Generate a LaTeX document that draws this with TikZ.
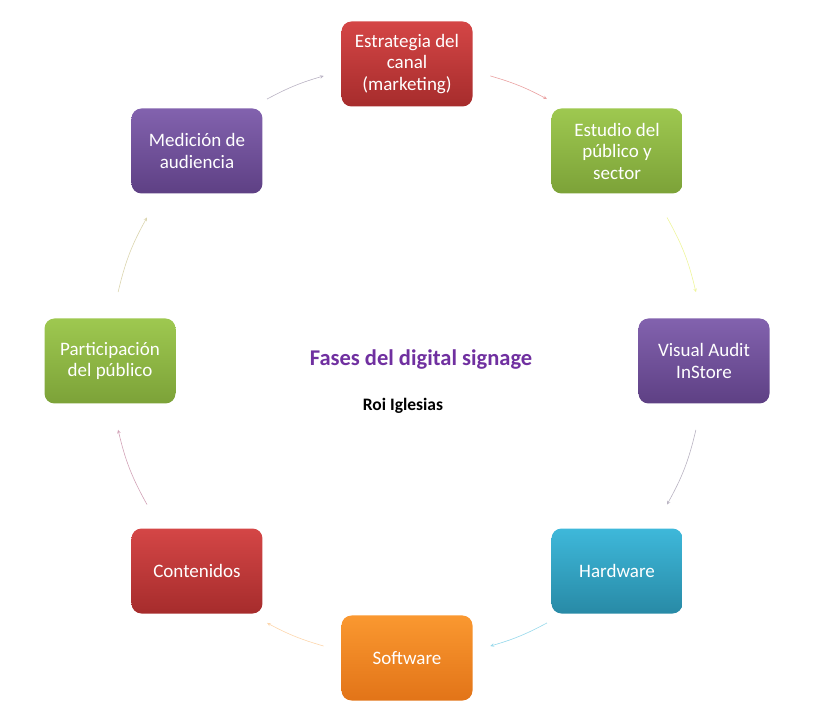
\documentclass[tikz,border=0pt]{standalone}
\usepackage{fontspec}
\setmainfont{Carlito}
\usepackage{tikz}
\usetikzlibrary{arrows,calc}
\definecolor{rojo1} {RGB} {212, 70, 70}
\definecolor{rojo2} {RGB} {166, 44, 44}
\definecolor{verde1} {RGB} {158, 200, 80}
\definecolor{verde2} {RGB} {124, 162, 56}
\definecolor{lila1} {RGB} {130, 98, 174}
\definecolor{lila2} {RGB} {94, 64, 132}
\definecolor{azul1} {RGB} {62, 184, 218}
\definecolor{azul2} {RGB} {40, 138, 166}
\definecolor{naranja1} {RGB} {250, 152, 48}
\definecolor{naranja2} {RGB} {226, 116, 24}
\definecolor{titulo} {RGB} {112, 48, 160}
\tikzstyle{fase}=[
  rounded corners=10pt, minimum width=131pt, minimum height=85pt, inner sep=2pt,
  text=white, align=center, font=\fontsize{19}{21.5}\selectfont
]
\tikzstyle{flecha}=[
  ->, >=stealth, line width=0.6pt
]

\begin{document}
\begin{tikzpicture}[x=1pt,y=1pt]
  \useasboundingbox (0,0) rectangle (837,717);
  \coordinate (c) at (407,356);
  % fases
  \node[fase, top color=rojo1, bottom color=rojo2] (estrategia) at ($(c)+(90:297)$) {Estrategia del\\canal\\(marketing)};
  \node[fase, top color=verde1, bottom color=verde2] (estudio) at ($(c)+(45:297)$) {Estudio del\\público y\\sector};
  \node[fase, top color=lila1, bottom color=lila2] (visual) at ($(c)+(0:297)$) {Visual Audit\\InStore};
  \node[fase, top color=azul1, bottom color=azul2] (hardware) at ($(c)+(-45:297)$) {Hardware};
  \node[fase, top color=naranja1, bottom color=naranja2] (software) at ($(c)+(-90:297)$) {Software};
  \node[fase, top color=rojo1, bottom color=rojo2] (contenidos) at ($(c)+(-135:297)$) {Contenidos};
  \node[fase, top color=verde1, bottom color=verde2] (participacion) at ($(c)+(180:297)$) {Participación\\del público};
  \node[fase, top color=lila1, bottom color=lila2] (medicion) at ($(c)+(135:297)$) {Medición de\\audiencia};
  % titulo
  \node[text=titulo, font=\fontsize{22.5}{27}\selectfont\bfseries] (tit) at (421,357) {Fases del digital signage};
  \node[font=\fontsize{17.5}{21}\selectfont\bfseries] (autor) at (403,311) {Roi Iglesias};
  % flechas
  \coordinate (a1) at ($(c)+(73.7:297)$);  \coordinate (b1) at ($(c)+(61.9:297)$);
  \coordinate (a2) at ($(c)+(28.9:297)$);  \coordinate (b2) at ($(c)+(13.4:297)$);
  \coordinate (a3) at ($(c)+(-13.4:297)$); \coordinate (b3) at ($(c)+(-28.9:297)$);
  \coordinate (a4) at ($(c)+(-61.9:297)$); \coordinate (b4) at ($(c)+(-73.7:297)$);
  \coordinate (a5) at ($(c)+(-106.3:297)$); \coordinate (b5) at ($(c)+(-118.1:297)$);
  \coordinate (a6) at ($(c)+(-151.1:297)$); \coordinate (b6) at ($(c)+(-166.6:297)$);
  \coordinate (a7) at ($(c)+(166.6:297)$); \coordinate (b7) at ($(c)+(151.1:297)$);
  \coordinate (a8) at ($(c)+(118.1:297)$); \coordinate (b8) at ($(c)+(106.3:297)$);
  \draw[flecha, rojo1!50!white] (a1) to[bend left=6] (b1);
  \draw[flecha, verde1!40!yellow!45!white] (a2) to[bend left=8] (b2);
  \draw[flecha, lila1!35!gray!55!white] (a3) to[bend left=8] (b3);
  \draw[flecha, azul1!55!white] (a4) to[bend left=6] (b4);
  \draw[flecha, naranja1!40!white] (a5) to[bend left=6] (b5);
  \draw[flecha, rojo1!50!lila1!55!white] (a6) to[bend left=8] (b6);
  \draw[flecha, rojo1!30!verde1!45!white] (a7) to[bend left=8] (b7);
  \draw[flecha, lila1!40!gray!55!white] (a8) to[bend left=6] (b8);
\end{tikzpicture}
\end{document}
